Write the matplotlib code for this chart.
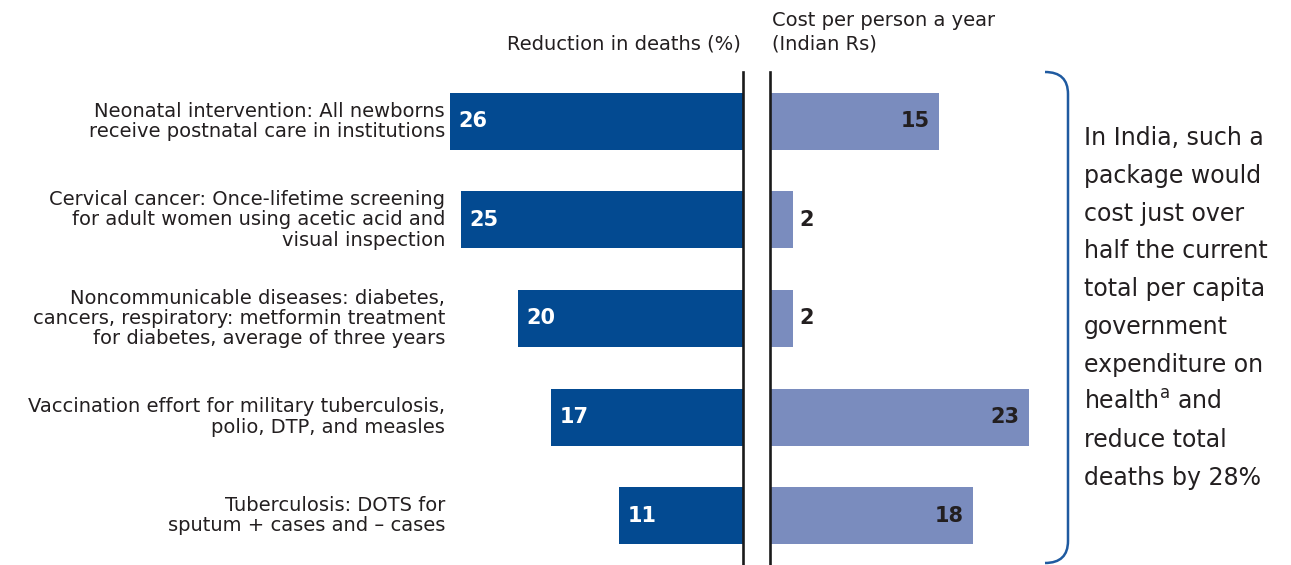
import matplotlib
matplotlib.use("Agg")
import matplotlib.pyplot as plt
import matplotlib.patches as mpatches
from matplotlib.path import Path

plt.rcParams["font.family"] = ["DejaVu Sans"]
plt.rcParams["mathtext.default"] = "regular"

# data
categories = [
    "Neonatal intervention: All newborns\nreceive postnatal care in institutions",
    "Cervical cancer: Once-lifetime screening\nfor adult women using acetic acid and\nvisual inspection",
    "Noncommunicable diseases: diabetes,\ncancers, respiratory: metformin treatment\nfor diabetes, average of three years",
    "Vaccination effort for military tuberculosis,\npolio, DTP, and measles",
    "Tuberculosis: DOTS for\nsputum + cases and \u2013 cases",
]
reduction = [26, 25, 20, 17, 11]
cost = [15, 2, 2, 23, 18]
left_title = "Reduction in deaths (%)"
right_title = "Cost per person a year\n(Indian Rs)"
note = ("In India, such a\npackage would\ncost just over\nhalf the current\ntotal per capita\n"
        "government\nexpenditure on\nhealth$^{a}$ and\nreduce total\ndeaths by 28%")

dark = "#034a91"
light = "#7a8cbe"
txt = "#231f20"
W, H = 1291, 565

fig = plt.figure(figsize=(W / 100, H / 100), dpi=100)

# axes placed in pixel terms
ax_l = fig.add_axes([440 / W, 0, 303 / W, 493 / H])
ax_r = fig.add_axes([770 / W, 0, 270 / W, 493 / H])

ypos = list(range(len(categories)))
ax_l.barh(ypos, reduction, height=0.58, color=dark)
ax_r.barh(ypos, cost, height=0.58, color=light)

ax_l.set_xlim(303 / 11.27, 0)
ax_r.set_xlim(0, 270 / 11.27)
for ax in (ax_l, ax_r):
    ax.set_ylim(4.5, -0.5)
    ax.set_xticks([])
    ax.set_yticks([])
    for s in ax.spines.values():
        s.set_visible(False)
ax_l.spines["right"].set_visible(True)
ax_l.spines["right"].set_linewidth(1.9)
ax_l.spines["right"].set_color("#1a1a1a")
ax_r.spines["left"].set_visible(True)
ax_r.spines["left"].set_linewidth(1.9)
ax_r.spines["left"].set_color("#1a1a1a")

num_font = dict(family=["Liberation Sans Narrow", "DejaVu Sans"], fontweight="bold", fontsize=15)

for y, v in zip(ypos, reduction):
    ax_l.text(v - 0.75, y, str(v), color="white", ha="left", va="center", **num_font)

# category labels right-aligned at a fixed position left of the bars
for y, lab in zip(ypos, categories):
    ax_l.annotate(lab, xy=(0, y), xycoords=("figure fraction", "data"),
                  xytext=(445 / W, 0), textcoords=("figure fraction", "offset points"),
                  color=txt, ha="right", va="center", fontsize=14, linespacing=1.1,
                  annotation_clip=False)

for y, v in zip(ypos, cost):
    if v < 5:
        ax_r.text(v + 0.6, y, str(v), color=txt, ha="left", va="center", **num_font)
    else:
        ax_r.text(v - 0.85, y, str(v), color=txt, ha="right", va="center", **num_font)

fig.text(741 / W, 1 - 44 / H, left_title, ha="right", va="center", fontsize=14, color=txt)
fig.text(772 / W, 1 - 32 / H, right_title, ha="left", va="center", fontsize=14, color=txt,
         linespacing=1.29)

fig.text(1084 / W, 1 - 308 / H, note, ha="left", va="center", fontsize=17, color=txt,
         linespacing=1.72)

# bracket
x0, x1 = 1045, 1068
yt, yb, r = 72, 563, 22
pts = [(x0, yt), (x1, yt), (x1, yt + r), (x1, yb - r), (x1, yb), (x0, yb)]
pts = [(px / W, 1 - py / H) for px, py in pts]
codes = [Path.MOVETO, Path.CURVE3, Path.CURVE3, Path.LINETO, Path.CURVE3, Path.CURVE3]
fig.patches.append(mpatches.PathPatch(Path(pts, codes), fill=False, edgecolor="#1f5aa0",
                                      linewidth=1.8, transform=fig.transFigure))

fig.savefig("out.png", dpi=100)
